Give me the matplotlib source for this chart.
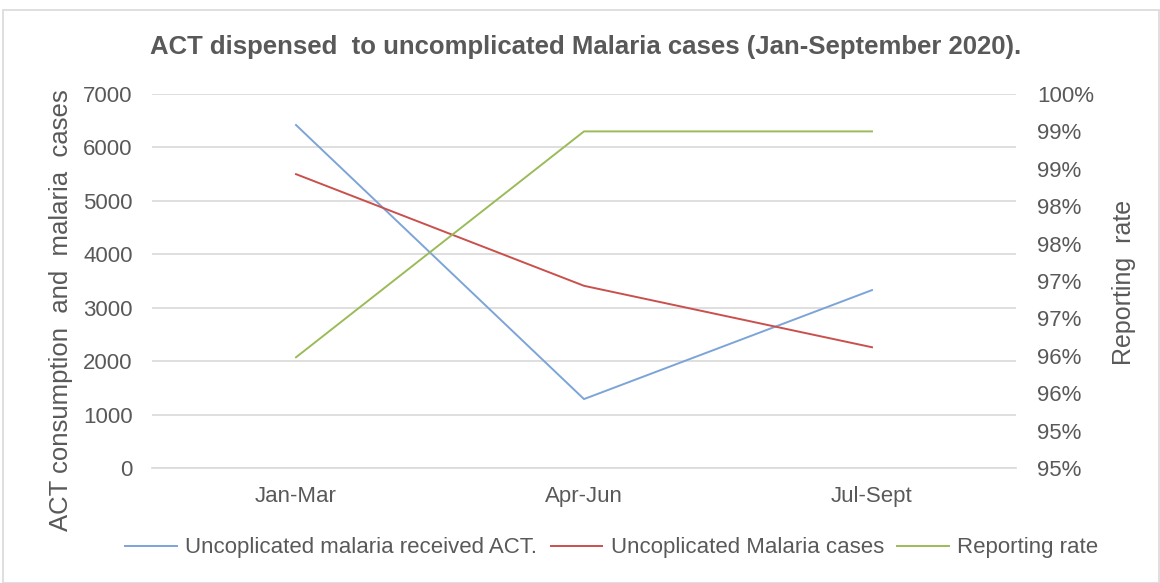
import matplotlib
matplotlib.use("Agg")
import matplotlib.pyplot as plt
from matplotlib.patches import Rectangle
from matplotlib.ticker import FuncFormatter

# Data
quarters = ["Jan-Mar", "Apr-Jun", "Jul-Sept"]
received_act = [6420, 1290, 3330]
malaria_cases = [5500, 3410, 2260]
reporting_rate = [0.9598, 0.990, 0.990]

text_col = "#595959"
grid_col = "#D9D9D9"
plt.rcParams["font.family"] = ["Liberation Sans", "DejaVu Sans"]

fig = plt.figure(figsize=(11.6, 5.83), dpi=100)
ax = fig.add_axes([152 / 1160, 1 - 468 / 583, (1016 - 152) / 1160, (468 - 94) / 583])

# chart border
fig.patches.append(Rectangle((3 / 1160, 0), 1 - 4 / 1160, 1 - 10 / 583, transform=fig.transFigure,
                             fill=False, edgecolor="#D9D9D9", linewidth=1.2))

x = list(range(len(quarters)))
l1, = ax.plot(x, received_act, color="#7DA4D8", linewidth=1.4, label="Uncoplicated malaria received ACT.")
l2, = ax.plot(x, malaria_cases, color="#C9504D", linewidth=1.4, label="Uncoplicated Malaria cases")

ax.set_xlim(-0.5, 2.5)
ax.set_ylim(0, 7000)
ax.set_yticks(range(0, 7001, 1000))
ax.grid(axis="y", color=grid_col, linewidth=1.2)
ax.set_axisbelow(True)
ax.set_xticks(x)
ax.set_xticklabels(quarters)
for s in ["top", "right", "left"]:
    ax.spines[s].set_visible(False)
ax.spines["bottom"].set_color(grid_col)
ax.spines["bottom"].set_linewidth(1.2)
ax.tick_params(axis="both", length=0, labelsize=16, colors=text_col)
ax.tick_params(axis="x", pad=13)
ax.tick_params(axis="y", pad=14)

ax2 = ax.twinx()
l3, = ax2.plot(x, reporting_rate, color="#9BBB59", linewidth=1.4, label="Reporting rate")
ax2.set_ylim(0.945, 0.995)
ax2.set_yticks([0.945 + 0.005 * i for i in range(11)])
ax2.yaxis.set_major_formatter(FuncFormatter(lambda v, p: "%d%%" % int(v * 100 + 0.5 + 1e-9)))
for s in ["top", "right", "left", "bottom"]:
    ax2.spines[s].set_visible(False)
ax2.tick_params(axis="y", length=0, labelsize=16, colors=text_col, pad=15)

# axis titles
fig.text(61 / 1160, 1 - 310 / 583, "ACT consumption  and  malaria  cases", rotation=90,
         ha="center", va="center", fontsize=18.5, color=text_col)
fig.text(1124 / 1160, 1 - 282 / 583, "Reporting  rate", rotation=90,
         ha="center", va="center", fontsize=18, color=text_col)

fig.text(586 / 1160, 1 - 47 / 583, "ACT dispensed  to uncomplicated Malaria cases (Jan-September 2020).",
         ha="center", va="center", fontsize=18.5, fontweight="bold", color=text_col)

fig.legend(handles=[l1, l2, l3], loc="center", bbox_to_anchor=(612 / 1160, 1 - 548 / 583), ncol=3,
           frameon=False, fontsize=16, labelcolor=text_col, handlelength=2.3,
           handletextpad=0.4, columnspacing=0.6)

fig.savefig("out.png", dpi=100)
